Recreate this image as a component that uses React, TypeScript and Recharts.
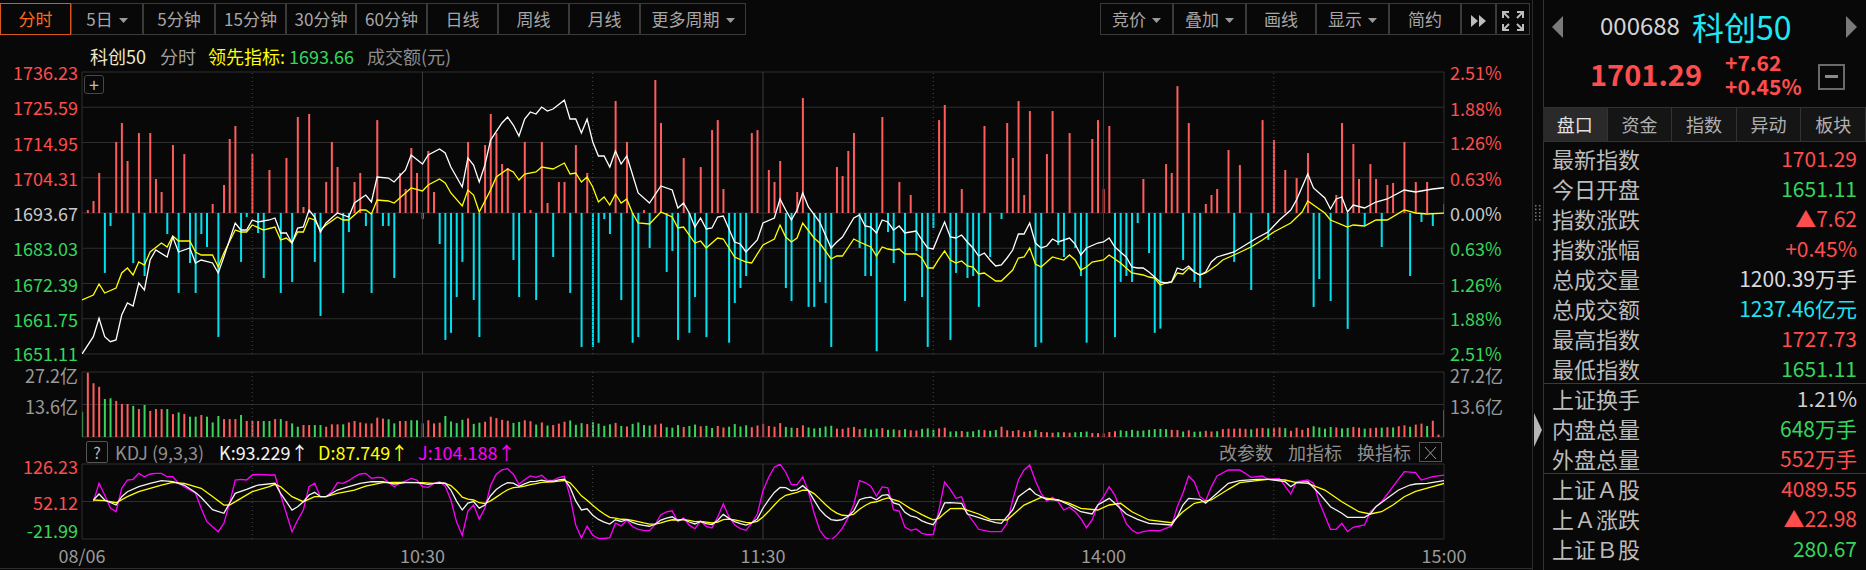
import React from 'react';
import { ComposedChart, Line, Bar, Cell, XAxis, YAxis, CartesianGrid, ReferenceLine } from 'recharts';

const FONT = "'Noto Sans CJK SC', 'Noto Sans', sans-serif";
const RED = '#ff4d4d';
const BAR_RED = '#ff5c5c';
const GREEN = '#36d65c';
const CYAN = '#00e2f2';
const GRAY = '#9a9a9a';
const GRID = '#2e2e2e';
const BG = '#080808';

// ---------- axis / tick data ----------
const timeTicks = [0, 60, 120, 180, 240];
const timeLabels = ['08/06', '10:30', '11:30', '14:00', '15:00'];
const solidMinutes = [60, 120, 180];
const dottedMinutes = [30, 90, 150, 210];
const priceBase = 1693.67;
const priceTicks = [1651.11, 1661.75, 1672.39, 1683.03, 1693.67, 1704.31, 1714.95, 1725.59, 1736.23];
const pctTicks = [-2.51, -1.88, -1.26, -0.63, 0, 0.63, 1.26, 1.88, 2.51];
const volumeTicks = [0, 13.6, 27.2];
const kdjTicks = [-21.99, 52.12, 126.23];

type Pt = [number, number];

// ---------- series data (minute index from 9:30, value) ----------
const priceLine: Pt[] = [[0,1651.11],[2,1656.33],[3,1661.89],[4,1656.33],[5,1654.82],[6,1655.34],[7,1662.88],[8,1666.5],[9,1665.6],[10,1672.54],[11,1670.43],[12,1679.48],[13,1682.5],[15,1680.39],[16,1686.43],[17,1681.9],[19,1683.11],[20,1678.58],[21,1679.48],[23,1678.58],[24,1675.56],[25,1680.39],[26,1685.52],[27,1690.65],[28,1688.54],[29,1688.54],[30,1691.56],[31,1690.95],[33,1691.56],[34,1692.16],[35,1687.63],[36,1687.63],[37,1684.61],[38,1689.14],[39,1689.44],[40,1694.58],[41,1692.46],[42,1687.94],[43,1690.65],[45,1693.67],[47,1692.46],[48,1696.69],[50,1699.1],[51,1696.99],[52,1704.54],[54,1704.23],[55,1703.03],[57,1706.65],[58,1711.18],[60,1708.46],[61,1711.18],[63,1712.99],[64,1711.78],[65,1707.55],[67,1701.52],[68,1710.27],[69,1708.16],[70,1703.03],[71,1708.16],[72,1715.7],[74,1720.84],[75,1722.65],[76,1720.23],[77,1716.91],[78,1722.04],[79,1724.16],[80,1723.55],[81,1725.66],[82,1724.46],[83,1725.06],[85,1727.73],[86,1722.04],[87,1722.04],[88,1717.82],[89,1722.04],[90,1715.1],[91,1710.88],[92,1710.88],[93,1707.55],[94,1712.38],[95,1708.46],[96,1710.88],[98,1699.71],[100,1696.69],[102,1701.82],[104,1700.61],[105,1695.18],[106,1696.69],[107,1693.67],[108,1689.44],[109,1692.16],[110,1688.84],[111,1689.14],[112,1692.46],[113,1692.76],[115,1684.92],[116,1684.31],[117,1681.9],[119,1685.52],[120,1690.65],[122,1692.16],[123,1697.9],[124,1694.58],[125,1691.56],[126,1694.58],[127,1699.71],[128,1695.48],[130,1690.95],[132,1683.11],[133,1684.92],[134,1686.43],[136,1692.16],[137,1693.07],[138,1689.75],[139,1689.44],[140,1687.63],[141,1691.56],[142,1690.95],[143,1688.54],[144,1689.75],[145,1687.63],[147,1688.24],[148,1685.52],[149,1683.11],[150,1682.8],[151,1687.03],[152,1690.95],[153,1686.43],[154,1686.13],[155,1687.03],[156,1684.92],[157,1683.11],[158,1680.69],[159,1681.6],[160,1679.48],[161,1677.67],[162,1677.97],[163,1680.09],[164,1682.5],[165,1687.33],[166,1687.33],[167,1690.65],[168,1684.61],[169,1683.11],[170,1683.71],[171,1685.82],[172,1684.92],[174,1686.12],[175,1684.31],[176,1680.99],[177,1683.11],[179,1684.61],[180,1684.92],[181,1686.12],[182,1683.41],[184,1680.39],[185,1677.37],[186,1677.07],[187,1677.07],[188,1675.86],[190,1672.84],[191,1672.54],[192,1672.84],[193,1677.07],[194,1676.46],[195,1677.67],[196,1675.86],[197,1674.96],[198,1675.86],[199,1678.88],[200,1680.39],[203,1681.9],[205,1684.01],[207,1686.12],[209,1687.94],[211,1691.56],[213,1694.58],[214,1697.59],[216,1705.44],[217,1701.22],[219,1698.2],[220,1694.88],[221,1697.9],[222,1698.5],[223,1693.97],[224,1696.08],[226,1695.18],[228,1696.99],[230,1697.9],[233,1700.61],[235,1700.01],[237,1700.61],[238,1700.91],[240,1701.29]];

const leadLine: Pt[] = [[0,1667.41],[2,1668.92],[3,1672.24],[4,1669.52],[6,1671.03],[7,1675.56],[8,1677.07],[9,1674.96],[10,1678.88],[11,1677.97],[12,1681.9],[14,1684.61],[15,1683.41],[16,1686.73],[17,1685.22],[19,1685.22],[20,1681.9],[21,1680.99],[23,1680.99],[24,1677.37],[25,1681.6],[27,1688.54],[28,1687.94],[29,1687.94],[30,1690.05],[32,1688.54],[34,1689.44],[35,1685.52],[36,1686.12],[37,1684.61],[38,1687.94],[39,1687.94],[40,1692.16],[41,1691.56],[42,1688.54],[43,1690.05],[45,1692.46],[46,1691.56],[47,1691.56],[49,1694.58],[50,1694.58],[51,1693.37],[52,1697.59],[54,1697.29],[55,1696.69],[56,1698.2],[58,1701.22],[60,1700.31],[61,1702.12],[63,1703.93],[64,1702.73],[65,1699.71],[67,1695.78],[68,1700.61],[69,1699.1],[70,1693.97],[72,1700.61],[73,1704.54],[75,1706.95],[76,1706.05],[77,1703.63],[78,1705.44],[80,1706.05],[81,1707.55],[83,1706.95],[85,1708.76],[86,1705.44],[87,1705.74],[88,1703.03],[89,1704.54],[90,1701.52],[91,1696.99],[92,1698.5],[93,1696.08],[94,1699.4],[95,1696.69],[96,1697.9],[97,1693.67],[98,1690.65],[100,1690.35],[102,1693.97],[104,1692.46],[105,1689.14],[106,1689.44],[108,1684.61],[109,1685.22],[110,1683.11],[112,1686.12],[113,1685.82],[114,1683.11],[115,1680.39],[117,1678.88],[118,1678.58],[120,1684.01],[122,1685.82],[123,1690.05],[124,1686.43],[125,1684.92],[126,1686.12],[127,1690.65],[129,1686.12],[130,1684.61],[132,1679.79],[133,1680.69],[134,1680.69],[136,1685.82],[137,1684.92],[139,1683.41],[140,1680.69],[141,1683.41],[142,1682.8],[143,1682.5],[144,1682.8],[145,1681.29],[147,1681.29],[148,1680.09],[149,1677.07],[150,1677.07],[151,1679.79],[152,1682.2],[153,1679.48],[154,1678.58],[155,1679.18],[156,1677.67],[157,1677.37],[158,1675.26],[159,1675.56],[160,1674.35],[161,1673.14],[162,1673.14],[164,1676.46],[165,1680.09],[166,1680.39],[167,1683.11],[168,1678.28],[169,1677.37],[171,1680.39],[173,1679.48],[174,1681.0],[175,1679.48],[176,1676.46],[177,1677.37],[178,1678.88],[180,1679.48],[181,1681.0],[183,1678.58],[185,1675.56],[187,1674.96],[188,1674.35],[189,1674.05],[190,1671.94],[191,1672.54],[192,1672.84],[193,1675.56],[194,1675.26],[195,1677.07],[196,1675.86],[197,1674.96],[198,1675.56],[200,1677.97],[201,1679.48],[203,1681.0],[206,1683.41],[208,1685.52],[210,1687.94],[213,1690.65],[215,1693.97],[216,1697.29],[218,1694.88],[219,1693.67],[220,1691.56],[223,1689.44],[224,1690.05],[226,1689.75],[228,1691.56],[230,1691.56],[233,1694.58],[235,1693.67],[237,1693.37],[240,1693.66]];

// leading-indicator strength bars (+ red up, - cyan down), scale -100..100
const signalBars: Pt[] = [[1,2.1],[2,8.5],[3,28.4],[4,-42.5],[5,-9.2],[6,50.4],[7,63.8],[8,36.9],[9,-35.5],[10,56.7],[11,-44.7],[12,56.7],[13,24.1],[14,14.9],[15,-14.9],[16,48.2],[17,-56.7],[18,41.8],[19,-35.5],[20,-56.7],[21,-14.9],[22,-24.1],[23,6.4],[24,-87.9],[25,19.9],[26,52.5],[27,61.7],[28,-34.7],[29,-2.8],[30,41.8],[31,-14.2],[32,-46.1],[33,30.5],[35,-56.7],[36,39.0],[37,-48.9],[38,68.1],[39,4.3],[40,70.2],[41,-34.7],[42,-73.0],[43,22.0],[44,50.4],[45,32.6],[46,-56.7],[47,-13.5],[48,22.0],[49,28.4],[50,-9.2],[51,-56.7],[52,65.9],[53,-9.2],[54,-9.2],[55,-46.1],[56,28.4],[57,17.0],[58,46.1],[59,28.4],[60,-4.3],[61,44.0],[62,14.9],[63,-22.0],[64,-90],[65,-85],[66,-59.6],[67,-34.7],[68,50.4],[69,-61.7],[70,-88],[71,48.2],[72,70.2],[73,56.7],[74,34.7],[75,31.9],[76,-33.3],[77,-59.6],[78,50.4],[79,2.1],[80,-61.7],[81,50.4],[82,7.1],[83,-31.2],[84,22.0],[85,22.0],[86,-56.7],[87,48.2],[88,-95],[89,28.4],[90,-95],[91,-92],[92,-4.3],[93,-14.9],[94,79.4],[95,-61.7],[96,50.4],[97,-92],[98,-88],[99,2.1],[100,-24.8],[101,94.3],[102,63.8],[103,-41.8],[104,-26.9],[105,-90],[106,39.0],[107,-85],[108,-59.6],[109,32.6],[110,-88],[111,58.8],[112,65.9],[113,17.0],[114,-92],[115,-63.8],[116,-53.2],[117,-44.7],[118,56.7],[119,58.8],[121,30.5],[122,22.0],[123,36.9],[124,-53.2],[125,-62.4],[126,14.9],[127,81.5],[128,-66.6],[129,-66.6],[130,-48.9],[131,-63.8],[132,-95],[133,32.6],[134,26.2],[135,44.0],[136,56.7],[137,-24.8],[138,-44.7],[139,-44.7],[140,-98],[141,68.1],[142,-13.5],[143,-35.5],[144,22.0],[145,-62.4],[146,12.8],[147,-26.9],[148,-59.6],[149,-95],[150,-10.6],[151,65.9],[152,76.6],[153,-90],[154,-42.5],[155,17.0],[156,-46.1],[157,-44.7],[158,-66.6],[159,61.7],[160,-31.2],[162,-4.3],[163,63.8],[164,39.0],[165,79.4],[166,12.8],[167,72.3],[168,-95],[169,-92],[170,41.8],[171,72.3],[172,-22.7],[173,-31.2],[174,56.7],[175,-24.8],[176,-44.7],[177,-92],[178,52.5],[179,65.9],[180,17.0],[181,61.7],[182,-88],[183,-48.9],[184,-44.7],[185,-48.9],[186,-7.1],[187,24.1],[188,-28.4],[189,-85],[190,-82],[191,34.7],[192,28.4],[193,90.0],[194,-33.3],[195,63.8],[196,-48.9],[197,-53.2],[198,6.4],[199,12.8],[200,17.0],[202,44.7],[203,-34.7],[204,34.0],[206,-54.6],[208,65.9],[209,-19.1],[210,51.8],[212,30.5],[214,24.8],[216,42.5],[217,-66.6],[218,-46.8],[220,-62.4],[221,12.8],[222,63.8],[223,-82.2],[224,48.9],[225,24.1],[226,-8.5],[227,34.7],[228,24.1],[229,-24.1],[230,19.9],[231,21.3],[233,50.4],[234,-44.7],[235,22.0],[236,-6.4],[237,22.0],[238,-9.2],[240,6.4]];

// turnover per minute in 亿 (positive = red / up minute, negative = green / down minute)
const volume: number[] = [
  -10.6, 26.9, 22.5, 21.0, -15.9, -16.2, 15.1, 13.8, 13.8, -13.0,
  11.7, -13.4, 10.9, 11.7, 11.7, -11.7, 9.6, -10.3, 9.6, -8.5,
  -8.5, 9.2, -8.5, -6.1, -8.8, 7.5, 7.5, 7.5, -9.2, 6.7,
  6.7, 6.7, -6.7, -6.7, 7.5, -7.5, 6.7, -5.7, -4.3, 5.0,
  5.0, -5.0, -5.0, 4.3, 5.3, 5.3, -5.3, 6.1, 6.7, 6.1,
  5.7, 5.7, 8.1, 7.7, -7.4, -5.7, 6.7, 6.7, -7.0, -7.0,
  -5.7, 7.0, 5.7, 6.0, -8.8, -6.5, -5.8, -7.2, 7.8, -5.5,
  -6.0, 6.4, 8.5, 7.9, 7.2, 6.8, -5.9, -6.3, 7.0, 6.6,
  -5.2, 6.1, -4.8, 5.0, 5.6, 6.4, -6.9, -5.1, -5.8, 5.4,
  -6.2, -5.6, -4.7, -5.3, 5.9, -4.6, 4.4, -5.5, -6.1, -5.0,
  -4.8, 5.2, 5.6, -4.1, -3.9, -5.0, 4.2, -4.6, -5.2, 4.5,
  -4.7, -3.8, 4.6, 4.0, -4.3, -5.4, -4.4, -4.9, 4.1, 4.8,
  5.5, 4.6, 4.3, 5.8, -4.2, -3.9, 3.8, 4.9, -4.0, -3.6,
  -3.8, -4.4, -4.7, 3.5, 3.4, 3.9, 4.2, 3.3, -3.6, -3.1,
  -3.5, 3.7, -3.0, -3.2, 2.9, -3.3, 2.8, 2.7, -3.4, -3.6,
  -3.0, 3.6, 3.9, -2.3, -2.4, 2.5, -2.2, -2.4, -3.0, 2.9,
  -2.6, -2.9, 4.3, 2.8, 2.5, 2.9, 2.2, 2.5, -3.0, 2.1,
  2.0, 1.8, -2.0, 2.0, 1.8, -2.0, -2.1, -2.3, 1.7, 1.6,
  1.5, 2.1, 2.4, -2.8, -2.5, -3.0, -2.6, -2.7, -3.0, -3.3,
  -3.4, -3.3, 3.0, 2.9, -2.3, 2.8, -2.2, -2.3, 2.6, 2.3,
  -2.4, 3.3, 3.5, 3.5, 3.6, 3.4, -3.2, 3.6, 3.8, -3.6,
  3.9, 4.0, -3.7, 2.6, 3.9, 3.0, 3.8, -4.5, -4.0, -3.5,
  -4.2, 4.0, -3.6, -3.8, 4.2, 3.9, -3.5, 3.7, 3.9, -3.9,
  4.1, -4.0, 4.5, 4.9, -4.3, 5.2, 5.6, -4.6, 6.8, 1.0,
  11.3,
];

const kLine: Pt[] = [[2,55.1],[3,66.9],[4,55.1],[6,45.2],[7,61.6],[8,71.5],[10,81.4],[12,88.1],[14,93.2],[16,91.2],[18,84.7],[20,70.0],[21,60.0],[23,36.0],[25,28.8],[26,48.6],[27,68.3],[29,76.2],[31,84.7],[34,88.1],[35,68.3],[36,51.7],[37,35.3],[38,41.8],[39,51.7],[40,64.9],[41,70.3],[42,61.6],[43,61.6],[45,74.8],[47,81.4],[49,88.1],[51,91.2],[53,91.2],[55,86.7],[57,89.3],[59,89.3],[61,86.1],[63,89.3],[64,88.5],[65,74.8],[66,52.9],[67,35.3],[68,48.8],[69,51.9],[70,38.9],[71,45.2],[72,63.5],[73,75.7],[74,83.8],[75,89.2],[76,88.5],[77,82.3],[78,86.9],[79,91.2],[80,91.8],[81,94.5],[82,91.7],[83,92.1],[84,94.7],[85,96.4],[86,80.0],[87,53.3],[88,35.5],[89,37.7],[90,25.1],[91,16.7],[92,11.2],[93,7.4],[94,15.9],[95,12.6],[96,16.1],[97,10.7],[98,7.1],[99,4.8],[100,3.2],[101,7.1],[102,15.4],[103,19.3],[104,21.9],[105,14.6],[106,17.4],[107,11.6],[108,7.7],[109,12.8],[110,8.5],[111,6.4],[112,14.6],[113,26.7],[114,18.8],[115,12.5],[116,8.4],[117,5.6],[118,10.0],[119,17.7],[120,38.8],[121,55.2],[122,70.1],[123,80.0],[124,79.6],[125,73.4],[126,75.2],[127,83.4],[128,73.3],[129,54.9],[130,36.6],[131,24.4],[132,16.3],[133,14.6],[134,16.4],[135,22.9],[136,33.6],[137,55.7],[138,59.4],[139,60.6],[140,55.4],[141,64.2],[142,65.8],[143,49.2],[144,46.1],[145,30.7],[146,23.8],[147,20.9],[148,13.9],[149,9.3],[150,6.2],[151,24.1],[152,49.4],[153,49.7],[155,48.6],[156,27.4],[159,16.9],[161,10.2],[162,9.0],[164,35.3],[165,61.6],[167,78.2],[168,66.9],[170,56.5],[172,55.1],[174,45.2],[176,31.9],[178,27.4],[179,45.2],[181,58.4],[182,48.6],[184,27.4],[186,16.9],[188,9.0],[192,5.7],[193,22.1],[194,45.2],[195,58.4],[197,56.5],[198,48.6],[200,68.3],[202,88.1],[204,93.2],[207,96.0],[209,96.0],[212,91.2],[213,81.4],[214,89.3],[216,91.2],[218,68.3],[220,41.8],[222,28.8],[223,20.9],[226,20.9],[227,27.4],[228,41.8],[230,58.4],[232,74.8],[234,84.7],[235,86.7],[237,88.1],[240,93.229]];

const dLine: Pt[] = [[2,55.1],[4,53.7],[6,49.7],[8,61.6],[10,71.5],[12,78.2],[14,84.7],[16,90.1],[18,88.1],[21,78.2],[23,62.0],[25,45.0],[26,45.2],[28,58.4],[30,71.5],[33,81.4],[34,86.1],[35,81.4],[37,61.6],[39,51.7],[41,61.6],[43,61.6],[45,68.3],[48,74.8],[50,82.7],[53,89.3],[55,90.1],[57,90.1],[60,89.3],[62,88.1],[64,88.1],[65,83.5],[66,73.3],[67,60.6],[68,56.7],[69,55.1],[70,49.7],[71,48.2],[72,53.3],[73,60.7],[74,68.4],[75,75.3],[76,79.7],[77,80.5],[78,82.7],[79,85.5],[80,87.6],[81,89.9],[82,90.5],[83,91.0],[84,92.3],[85,93.6],[86,89.1],[87,77.2],[88,63.3],[89,54.8],[90,44.9],[91,35.5],[92,27.4],[93,20.8],[94,19.2],[95,17.0],[96,16.7],[97,14.7],[98,12.2],[99,9.7],[100,7.6],[101,7.5],[102,10.1],[103,13.1],[104,16.0],[105,15.6],[106,16.2],[107,14.7],[108,12.4],[109,12.6],[110,11.2],[111,9.6],[112,11.3],[113,16.4],[114,17.2],[115,15.7],[116,13.3],[117,10.8],[118,10.5],[119,12.9],[120,21.5],[121,32.7],[122,45.2],[123,56.8],[124,64.4],[125,67.4],[126,70.0],[127,74.5],[128,74.1],[129,67.7],[130,57.3],[131,46.3],[132,36.3],[133,29.1],[134,24.9],[135,24.2],[136,27.3],[137,36.8],[138,44.3],[139,49.7],[140,51.6],[141,55.8],[142,59.1],[143,55.8],[144,52.6],[145,45.3],[146,38.1],[147,32.4],[148,26.2],[149,20.6],[150,15.8],[151,18.5],[152,28.8],[153,38.0],[155,38.7],[158,27.4],[160,16.9],[163,15.6],[165,35.3],[166,45.0],[169,60.4],[172,55.1],[174,48.6],[176,38.7],[179,35.3],[181,45.2],[183,48.6],[185,31.9],[188,15.6],[192,10.2],[194,31.9],[196,48.6],[199,55.1],[202,76.2],[204,89.3],[207,93.2],[209,96.0],[212,94.6],[214,89.3],[216,88.1],[219,74.8],[222,51.7],[225,31.9],[227,27.4],[229,31.9],[231,45.2],[233,61.6],[235,72.0],[238,81.4],[240,87.749]];

const jLine: Pt[] = [[2,51.7],[3,88.1],[4,64.9],[5,39.3],[6,31.9],[7,78.2],[8,94.6],[9,96.0],[10,107.8],[11,101.1],[12,106.5],[13,107.8],[14,107.8],[15,101.1],[16,101.1],[17,88.1],[18,81.4],[20,68.3],[21,38.7],[22,12.2],[23,2.3],[24,-7.5],[25,9.0],[26,48.6],[27,94.6],[28,96.0],[29,94.6],[30,104.5],[31,105.9],[33,104.5],[34,104.5],[35,64.9],[36,28.8],[37,-7.5],[38,15.6],[39,35.3],[40,81.4],[41,88.1],[42,61.6],[43,61.6],[44,71.5],[45,89.3],[46,88.1],[47,93.2],[48,101.1],[49,106.5],[50,107.8],[51,97.9],[52,99.9],[53,99.2],[54,90.1],[55,81.4],[56,88.1],[57,92.6],[58,97.9],[59,94.6],[60,81.4],[61,80.2],[62,88.1],[63,91.2],[64,82.7],[65,55.1],[66,12.0],[67,-15.0],[68,33.0],[69,45.5],[70,17.3],[71,39.2],[72,83.9],[73,106.0],[74,114.6],[75,117.0],[76,106.0],[77,86.0],[78,95.0],[79,102.6],[80,100.0],[81,104.0],[82,94.0],[83,94.0],[84,99.5],[85,102.0],[86,62.0],[87,5.7],[88,-20.0],[89,3.5],[90,-14.5],[91,-21.0],[92,-21.0],[93,-19.4],[94,9.3],[95,3.8],[96,14.9],[97,2.7],[98,-3.1],[99,-5.0],[100,-5.6],[101,6.3],[102,26.0],[103,31.7],[104,33.7],[105,12.6],[106,19.8],[107,5.4],[108,-1.7],[109,13.2],[110,3.1],[111,0.0],[112,21.2],[113,47.3],[114,22.0],[115,6.1],[116,-1.4],[117,-4.8],[118,9.0],[119,27.3],[120,73.4],[121,100.0],[122,120.0],[123,126.0],[124,110.0],[125,85.4],[126,85.6],[127,101.0],[128,71.7],[129,29.3],[130,-4.8],[131,-19.4],[132,-23.7],[133,-14.4],[134,-0.6],[135,20.3],[136,46.2],[137,93.5],[138,89.6],[139,82.4],[140,63.0],[141,81.0],[142,79.2],[143,36.0],[144,33.1],[145,1.5],[146,-4.8],[147,-2.1],[148,-10.7],[149,-13.3],[150,-13.0],[151,35.3],[152,90.6],[153,76.2],[154,58.4],[155,61.6],[156,28.8],[158,-2.8],[160,-7.5],[162,-7.5],[163,9.0],[164,55.1],[165,94.6],[166,114.4],[167,124.3],[168,93.2],[169,68.3],[170,53.1],[171,60.4],[172,51.7],[173,35.3],[174,40.7],[175,31.9],[176,18.9],[177,0.3],[178,15.6],[179,45.2],[180,61.6],[181,81.4],[182,64.9],[183,35.3],[184,9.0],[185,-4.2],[186,-10.7],[187,-7.5],[188,-5.6],[190,-5.6],[192,3.7],[193,41.8],[194,68.3],[195,102.5],[196,91.2],[197,61.6],[198,53.7],[199,81.4],[200,102.5],[202,114.4],[204,114.4],[205,107.8],[206,99.9],[208,102.5],[209,96.0],[211,97.9],[212,82.7],[213,66.9],[214,91.2],[216,94.6],[217,88.1],[218,51.7],[220,-2.8],[221,-2.8],[222,9.0],[223,-7.5],[224,1.1],[226,5.7],[227,31.9],[229,51.7],[231,81.4],[233,111.0],[235,109.0],[236,94.6],[238,101.1],[240,104.188]];

// ---------- table for the library ----------
type Row = { m: number; vol: number; up: boolean; price?: number; lead?: number; sig?: number; k?: number; d?: number; j?: number };
const rows: Row[] = volume.map((v, m) => ({ m, vol: Math.abs(v), up: v >= 0 }));
const put = (pts: Pt[], key: keyof Row) => pts.forEach(([m, v]) => { (rows[m] as any)[key] = v; });
put(priceLine, 'price');
put(leadLine, 'lead');
put(signalBars, 'sig');
put(kLine, 'k');
put(dLine, 'd');
put(jLine, 'j');

// ---------- ticks ----------
const LeftPriceTick = (p: any) => {
  const v = p.payload.value as number;
  const fill = v > priceBase + 1e-6 ? RED : v < priceBase - 1e-6 ? GREEN : '#c8c8c8';
  const dy = v === priceTicks[0] ? -1 : 0;
  return <text x={p.x} y={p.y + dy} textAnchor="end" dominantBaseline="central" fill={fill} fontSize={18} fontFamily={FONT}>{v.toFixed(2)}</text>;
};
const PctTick = (p: any) => {
  const v = p.payload.value as number;
  const fill = v > 0 ? RED : v < 0 ? GREEN : '#c8c8c8';
  const dy = v === pctTicks[0] ? -1 : 0;
  return <text x={p.x} y={p.y + dy} textAnchor="start" dominantBaseline="central" fill={fill} fontSize={18} fontFamily={FONT}>{Math.abs(v).toFixed(2) + '%'}</text>;
};
const makeVolTick = (anchor: 'start' | 'end') => (p: any) => {
  const v = p.payload.value as number;
  if (v === 0) return <g />;
  const dy = v === volumeTicks[2] ? 3 : 1;
  return <text x={p.x} y={p.y + dy} textAnchor={anchor} dominantBaseline="central" fill={GRAY} fontSize={18} fontFamily={FONT}>{v + '亿'}</text>;
};
const KdjTick = (p: any) => {
  const v = p.payload.value as number;
  const dy = v === kdjTicks[0] ? -9 : v === kdjTicks[2] ? 2 : 0;
  return <text x={p.x} y={p.y + dy} textAnchor="end" dominantBaseline="central" fill={v < 0 ? GREEN : RED} fontSize={18} fontFamily={FONT}>{v.toFixed(2)}</text>;
};
const TimeTick = (p: any) => {
  const v = p.payload.value as number;
  return <text x={p.x} y={p.y + 16} textAnchor="middle" dominantBaseline="central" fill={GRAY} fontSize={18} fontFamily={FONT}>{timeLabels[timeTicks.indexOf(v)]}</text>;
};

const vRefs = (axis: string) => [
  <ReferenceLine key="b0" yAxisId={axis} x={0} stroke={GRID} strokeWidth={1} />,
  <ReferenceLine key="b1" yAxisId={axis} x={240} stroke={GRID} strokeWidth={1} />,
  ...solidMinutes.map(m => <ReferenceLine key={'s' + m} yAxisId={axis} x={m} stroke="#3a3a3a" strokeWidth={1} />),
  ...dottedMinutes.map(m => <ReferenceLine key={'d' + m} yAxisId={axis} x={m} stroke="#4a4a4a" strokeDasharray="1 3" strokeWidth={1} />),
];

// ---------- small html helpers ----------
const Txt = ({ x, y, size, color, children, anchor = 'start', weight = 400 }: any) => {
  const h = Math.round(size * 1.1);
  const base: React.CSSProperties = { position: 'absolute', top: y - h / 2, height: h, lineHeight: h + 'px', fontSize: size, color, fontWeight: weight, whiteSpace: 'nowrap', fontFamily: FONT };
  if (anchor === 'end') return <div style={{ ...base, right: 1866 - x }}>{children}</div>;
  if (anchor === 'middle') return <div style={{ ...base, left: x - 150, width: 300, textAlign: 'center' }}>{children}</div>;
  return <div style={{ ...base, left: x }}>{children}</div>;
};

const Caret = () => (
  <svg width="9" height="6" style={{ marginLeft: 6, verticalAlign: 'middle' }}><polygon points="0,0 9,0 4.5,5" fill="#9a9a9a" /></svg>
);

const Btn = ({ x, w, label, dd, active, children }: any) => (
  <div style={{ position: 'absolute', left: x, top: 3, width: w - 2, height: 30, border: `1px solid ${active ? '#d9561c' : '#3a3a3a'}`, color: active ? '#ff6a1c' : '#a6a6a6', fontSize: 17, lineHeight: '30px', textAlign: 'center', fontFamily: FONT, whiteSpace: 'nowrap' }}>
    {children || label}{dd ? <Caret /> : null}
  </div>
);

const leftButtons: [string, number, number, boolean][] = [
  ['分时', 0, 71, false], ['5日', 71, 72, true], ['5分钟', 143, 72, false], ['15分钟', 215, 71, false], ['30分钟', 286, 70, false],
  ['60分钟', 356, 71, false], ['日线', 427, 71, false], ['周线', 498, 71, false], ['月线', 569, 71, false], ['更多周期', 640, 106, true],
];
const rightButtons: [string, number, number, boolean][] = [
  ['竞价', 1100, 73, true], ['叠加', 1173, 73, true], ['画线', 1246, 70, false], ['显示', 1316, 73, true], ['简约', 1389, 72, false],
];

const quoteRows: [string, string, string][] = [
  ['最新指数', '1701.29', RED], ['今日开盘', '1651.11', GREEN], ['指数涨跌', '▲7.62', RED], ['指数涨幅', '+0.45%', RED],
  ['总成交量', '1200.39万手', '#dadada'], ['总成交额', '1237.46亿元', '#1de6f2'], ['最高指数', '1727.73', RED], ['最低指数', '1651.11', GREEN],
  ['上证换手', '1.21%', '#d0d0d0'], ['内盘总量', '648万手', GREEN], ['外盘总量', '552万手', RED],
  ['上证Ａ股', '4089.55', RED], ['上Ａ涨跌', '▲22.98', RED], ['上证Ｂ股', '280.67', GREEN],
];
const tabs = ['盘口', '资金', '指数', '异动', '板块'];

const CHART_W = 1530;

export default function App() {
  const quoteY = (i: number) => 158 + i * 30;
  return (
    <div style={{ position: 'relative', width: 1866, height: 570, background: BG, overflow: 'hidden', fontFamily: FONT }}>
      <style>{'body{margin:0;background:#080808;}'}</style>

      {/* toolbar */}
      {leftButtons.map(([l, x, w, dd], i) => <Btn key={l} x={x} w={w} label={l} dd={dd} active={i === 0} />)}
      {rightButtons.map(([l, x, w, dd]) => <Btn key={l} x={x} w={w} label={l} dd={dd} />)}
      <Btn x={1461} w={35}>
        <svg width="16" height="12" style={{ verticalAlign: 'middle' }}><polygon points="0,0 7,6 0,12" fill="#bdbdbd" /><polygon points="8,0 15,6 8,12" fill="#bdbdbd" /></svg>
      </Btn>
      <Btn x={1496} w={34}>
        <svg width="22" height="20" style={{ verticalAlign: 'middle' }} stroke="#bdbdbd" strokeWidth="2" fill="none">
          <path d="M1 7 V1 H7 M1 1 L7 7" /><path d="M15 1 H21 V7 M21 1 L15 7" /><path d="M1 13 V19 H7 M1 19 L7 13" /><path d="M21 13 V19 H15 M21 19 L15 13" />
        </svg>
      </Btn>

      {/* legend */}
      <Txt x={90} y={56} size={18} color="#ece8cc">科创50</Txt>
      <Txt x={160} y={56} size={18} color="#a0a0a0">分时</Txt>
      <Txt x={208} y={56} size={18} color="#ffff00">领先指标:</Txt>
      <Txt x={289} y={56} size={18} color={GREEN}>1693.66</Txt>
      <Txt x={367} y={56} size={18} color="#8c8c8c">成交额(元)</Txt>

      {/* main price chart */}
      <div style={{ position: 'absolute', left: 0, top: 0 }}>
        <ComposedChart width={CHART_W} height={372} data={rows} margin={{ top: 72, right: 30, bottom: 18, left: 0 }}>
          <XAxis dataKey="m" type="number" domain={[0, 240]} hide allowDataOverflow />
          <YAxis yAxisId="price" domain={[1651.11, 1736.23]} ticks={priceTicks} width={82} tick={LeftPriceTick} tickSize={0} tickMargin={4} axisLine={false} tickLine={false} interval={0} allowDataOverflow />
          <YAxis yAxisId="pct" orientation="right" domain={[-2.513, 2.513]} ticks={pctTicks} width={56} tick={PctTick} tickSize={0} tickMargin={6} axisLine={false} tickLine={false} interval={0} allowDataOverflow />
          <YAxis yAxisId="sig" hide domain={[-100, 100]} allowDataOverflow />
          <CartesianGrid yAxisId="price" vertical={false} stroke={GRID} />
          {vRefs('price')}
          <Bar yAxisId="sig" dataKey="sig" barSize={2} isAnimationActive={false}>
            {rows.map((r, i) => <Cell key={i} fill={(r.sig ?? 0) >= 0 ? BAR_RED : CYAN} />)}
          </Bar>
          <Line yAxisId="price" type="linear" dataKey="lead" stroke="#ffff00" strokeWidth={1.3} dot={false} connectNulls isAnimationActive={false} />
          <Line yAxisId="price" type="linear" dataKey="price" stroke="#ffffff" strokeWidth={1.3} dot={false} connectNulls isAnimationActive={false} />
        </ComposedChart>
      </div>

      {/* plus box */}
      <div style={{ position: 'absolute', left: 84, top: 75, width: 18, height: 17, border: '1px solid #474747', borderRadius: 3, color: '#bbb', fontSize: 18, lineHeight: '16px', textAlign: 'center' }}>+</div>

      {/* volume chart */}
      <div style={{ position: 'absolute', left: 0, top: 360 }}>
        <ComposedChart width={CHART_W} height={84} data={rows} margin={{ top: 12, right: 30, bottom: 7, left: 0 }}>
          <XAxis dataKey="m" type="number" domain={[0, 240]} hide allowDataOverflow />
          <YAxis yAxisId="v" domain={[0, 27.2]} ticks={volumeTicks} width={82} tick={makeVolTick('end')} tickSize={0} tickMargin={4} axisLine={false} tickLine={false} interval={0} allowDataOverflow />
          <YAxis yAxisId="v2" orientation="right" domain={[0, 27.2]} ticks={volumeTicks} width={56} tick={makeVolTick('start')} tickSize={0} tickMargin={6} axisLine={false} tickLine={false} interval={0} allowDataOverflow />
          <CartesianGrid yAxisId="v" vertical={false} stroke={GRID} />
          {vRefs('v')}
          <Bar yAxisId="v" dataKey="vol" barSize={2} isAnimationActive={false}>
            {rows.map((r, i) => <Cell key={i} fill={r.up ? BAR_RED : '#3ad35c'} />)}
          </Bar>
        </ComposedChart>
      </div>

      {/* KDJ header */}
      <div style={{ position: 'absolute', left: 86, top: 441, width: 20, height: 20, border: '1px solid #555', borderRadius: 2, color: '#bbb', fontSize: 16, lineHeight: '20px', textAlign: 'center' }}>?</div>
      <Txt x={115} y={452} size={18} color="#8f8f8f">KDJ (9,3,3)</Txt>
      <Txt x={219} y={452} size={18} color="#f2f2f2">K:93.229↑</Txt>
      <Txt x={318} y={452} size={18} color="#ffff00">D:87.749↑</Txt>
      <Txt x={418} y={452} size={18} color="#ff00ff">J:104.188↑</Txt>
      <Txt x={1219} y={452} size={18} color="#8f8f8f">改参数</Txt>
      <Txt x={1288} y={452} size={18} color="#8f8f8f">加指标</Txt>
      <Txt x={1357} y={452} size={18} color="#8f8f8f">换指标</Txt>
      <div style={{ position: 'absolute', left: 1419, top: 442, width: 21, height: 18, border: '1px solid #555' }}>
        <svg width="21" height="18"><path d="M5 3 L16 15 M16 3 L5 15" stroke="#999" strokeWidth="1" /></svg>
      </div>

      {/* KDJ chart */}
      <div style={{ position: 'absolute', left: 0, top: 440 }}>
        <ComposedChart width={CHART_W} height={130} data={rows} margin={{ top: 24, right: 86, bottom: 0, left: 0 }}>
          <XAxis dataKey="m" type="number" domain={[0, 240]} ticks={timeTicks} height={31} tick={TimeTick} tickSize={0} tickMargin={0} axisLine={false} tickLine={false} interval={0} allowDataOverflow />
          <YAxis yAxisId="kdj" domain={[-21.99, 126.23]} ticks={kdjTicks} width={82} tick={KdjTick} tickSize={0} tickMargin={4} axisLine={false} tickLine={false} interval={0} allowDataOverflow />
          <CartesianGrid yAxisId="kdj" vertical={false} stroke={GRID} />
          {vRefs('kdj')}
          <Line yAxisId="kdj" dataKey="j" stroke="#ff00ff" strokeWidth={1.3} dot={false} connectNulls isAnimationActive={false} />
          <Line yAxisId="kdj" dataKey="d" stroke="#ffff00" strokeWidth={1.3} dot={false} connectNulls isAnimationActive={false} />
          <Line yAxisId="kdj" dataKey="k" stroke="#f4f4f4" strokeWidth={1.3} dot={false} connectNulls isAnimationActive={false} />
        </ComposedChart>
      </div>
      <div style={{ position: 'absolute', left: 0, top: 568, width: 1532, height: 1, background: GRID }} />

      {/* separators */}
      <div style={{ position: 'absolute', left: 1532, top: 0, width: 1, height: 570, background: '#2a2a2a' }} />
      <div style={{ position: 'absolute', left: 1543, top: 0, width: 1, height: 570, background: '#333' }} />
      <svg style={{ position: 'absolute', left: 1533, top: 205 }} width="10" height="18">
        {[0, 1, 2, 3, 4].map(i => <g key={i}><rect x={2} y={i * 3.5} width={1.5} height={1.5} fill="#777" /><rect x={6} y={i * 3.5} width={1.5} height={1.5} fill="#777" /></g>)}
      </svg>
      <svg style={{ position: 'absolute', left: 1533, top: 413 }} width="10" height="34">
        <polygon points="1,0 9,17 1,34" fill="#b5b5b5" />
      </svg>

      {/* right panel header */}
      <svg style={{ position: 'absolute', left: 1552, top: 16 }} width="12" height="22"><polygon points="11,0 0,11 11,22" fill="#7a7a7a" /></svg>
      <Txt x={1600} y={25} size={24} color="#d4d4d4">000688</Txt>
      <Txt x={1692} y={26} size={32} color="#1ee8f4">科创50</Txt>
      <svg style={{ position: 'absolute', left: 1846, top: 16 }} width="12" height="22"><polygon points="0,0 11,11 0,22" fill="#7a7a7a" /></svg>
      <Txt x={1590} y={73} size={29} color={RED} weight={700}>1701.29</Txt>
      <Txt x={1725} y={62} size={21} color={RED} weight={700}>+7.62</Txt>
      <Txt x={1725} y={86} size={21} color={RED} weight={700}>+0.45%</Txt>
      <div style={{ position: 'absolute', left: 1818, top: 64, width: 23, height: 22, border: '2px solid #6a6a6a' }}>
        <div style={{ position: 'absolute', left: 5, top: 9, width: 13, height: 3, background: '#8a8a8a' }} />
      </div>

      {/* tabs */}
      {tabs.map((t, i) => (
        <div key={t} style={{ position: 'absolute', left: 1543 + i * 64.6, top: 107, width: 64.6, height: 34, boxSizing: 'border-box', borderRight: '1px solid #333', borderTop: '1px solid #333', background: i === 0 ? '#2a2a2a' : '#151515', color: i === 0 ? '#e2e2e2' : '#b0b0b0', fontSize: 18, lineHeight: '33px', textAlign: 'center', fontFamily: FONT }}>{t}</div>
      ))}
      <div style={{ position: 'absolute', left: 1543, top: 141, width: 323, height: 1, background: '#333' }} />

      {/* quote table */}
      {quoteRows.map(([label, value, color], i) => (
        <React.Fragment key={label}>
          <Txt x={1552} y={quoteY(i)} size={22} color="#bcbcbc">{label}</Txt>
          <Txt x={1857} y={quoteY(i)} size={21} color={color} anchor="end">{value}</Txt>
        </React.Fragment>
      ))}
      <div style={{ position: 'absolute', left: 1543, top: 383, width: 323, height: 1, background: '#3a3a3a' }} />
      <div style={{ position: 'absolute', left: 1543, top: 473, width: 323, height: 1, background: '#3a3a3a' }} />
    </div>
  );
}
